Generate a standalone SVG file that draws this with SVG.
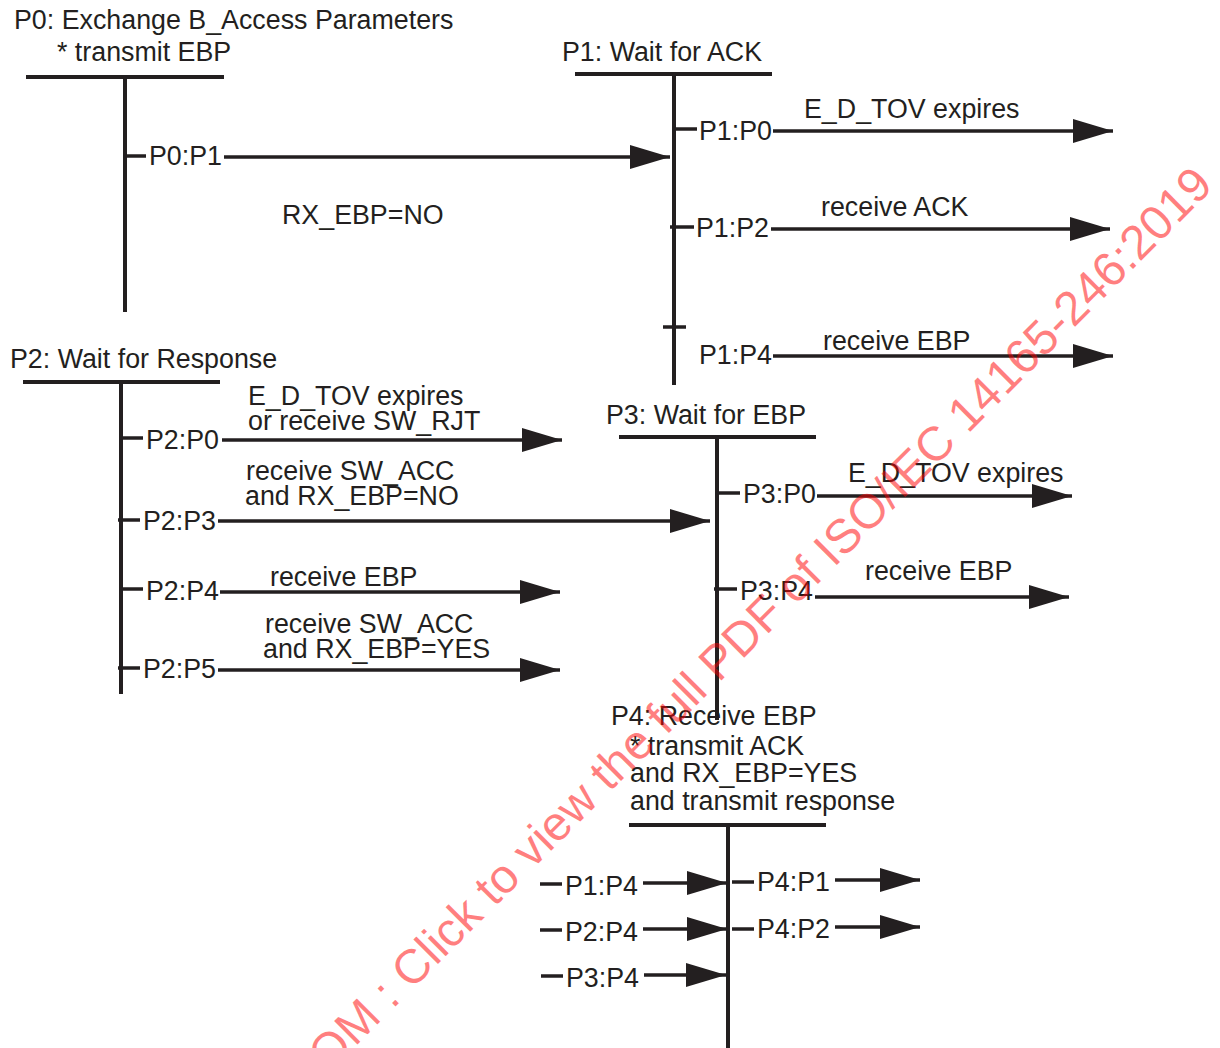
<svg xmlns="http://www.w3.org/2000/svg" width="1220" height="1048" viewBox="0 0 1220 1048">
<style>
.t{font-family:"Liberation Sans",Arial,sans-serif;font-size:26.8px;fill:#231f20}
.bar{stroke:#231f20;stroke-width:4;fill:none}
.tk{stroke:#231f20;stroke-width:3.5;fill:none}
.ln{stroke:#231f20;stroke-width:3.5;fill:none;marker-end:url(#ah)}
.wm{font-family:"Liberation Sans",Arial,sans-serif;font-size:48px;fill:#ff0000;fill-opacity:0.5}
</style>
<defs>
<marker id="ah" markerUnits="userSpaceOnUse" markerWidth="42" markerHeight="24" refX="40" refY="12" orient="auto">
<path d="M0,0 L40,12 L0,24 Z" fill="#231f20"/>
</marker>
</defs>
<rect width="1220" height="1048" fill="#ffffff"/>

<g id="node-P0">
<text class="t" x="14" y="29">P0: Exchange B_Access Parameters</text>
<text class="t" x="57" y="61">* transmit EBP</text>
<line class="bar" x1="26" y1="77" x2="224" y2="77"/>
<line class="bar" x1="125" y1="77" x2="125" y2="312"/>
<line class="tk" x1="125" y1="156" x2="146" y2="156"/>
<text class="t" x="149" y="165">P0:P1</text>
</g>

<g id="node-P1">
<text class="t" x="562" y="61">P1: Wait for ACK</text>
<line class="bar" x1="575" y1="74" x2="772" y2="74"/>
<line class="bar" x1="674" y1="74" x2="674" y2="385"/>
<line class="tk" x1="674" y1="129" x2="697" y2="129"/>
<text class="t" x="699" y="140">P1:P0</text>
<line class="tk" x1="670" y1="227" x2="694" y2="227"/>
<text class="t" x="696" y="237">P1:P2</text>
<line class="tk" x1="663" y1="327" x2="686" y2="327"/>
<text class="t" x="699" y="364">P1:P4</text>
</g>

<g id="node-P2">
<text class="t" x="10" y="368">P2: Wait for Response</text>
<line class="bar" x1="23" y1="382" x2="220" y2="382"/>
<line class="bar" x1="121" y1="382" x2="121" y2="694"/>
<line class="tk" x1="121" y1="438" x2="143" y2="438"/>
<text class="t" x="146" y="449">P2:P0</text>
<line class="tk" x1="118" y1="520" x2="140" y2="520"/>
<text class="t" x="143" y="530">P2:P3</text>
<line class="tk" x1="121" y1="589" x2="143" y2="589"/>
<text class="t" x="146" y="600">P2:P4</text>
<line class="tk" x1="118" y1="668" x2="140" y2="668"/>
<text class="t" x="143" y="678">P2:P5</text>
</g>

<g id="node-P3">
<text class="t" x="606" y="424">P3: Wait for EBP</text>
<line class="bar" x1="619" y1="437" x2="816" y2="437"/>
<line class="bar" x1="717" y1="437" x2="717" y2="720"/>
<line class="tk" x1="717" y1="493" x2="740" y2="493"/>
<text class="t" x="743" y="503">P3:P0</text>
<line class="tk" x1="714" y1="589" x2="737" y2="589"/>
<text class="t" x="740" y="600">P3:P4</text>
</g>

<g id="node-P4">
<text class="t" x="611" y="725">P4: Receive EBP</text>
<text class="t" x="630" y="755">* transmit ACK</text>
<text class="t" x="630" y="782">and RX_EBP=YES</text>
<text class="t" x="630" y="810">and transmit response</text>
<line class="bar" x1="629" y1="825" x2="826" y2="825"/>
<line class="bar" x1="728" y1="825" x2="728" y2="1048"/>
<line class="tk" x1="540" y1="884" x2="562" y2="884"/>
<text class="t" x="565" y="895">P1:P4</text>
<line class="tk" x1="540" y1="930" x2="562" y2="930"/>
<text class="t" x="565" y="941">P2:P4</text>
<line class="tk" x1="541" y1="976" x2="563" y2="976"/>
<text class="t" x="566" y="987">P3:P4</text>
<line class="tk" x1="732" y1="882" x2="754" y2="882"/>
<text class="t" x="757" y="891">P4:P1</text>
<line class="tk" x1="732" y1="929" x2="754" y2="929"/>
<text class="t" x="757" y="938">P4:P2</text>
</g>

<g id="connectors">
<line class="ln" x1="224" y1="157" x2="670" y2="157"/>
<text class="t" x="282" y="224">RX_EBP=NO</text>

<line class="ln" x1="773" y1="131" x2="1113" y2="131"/>
<text class="t" x="804" y="118">E_D_TOV expires</text>
<line class="ln" x1="771" y1="229" x2="1110" y2="229"/>
<text class="t" x="821" y="216">receive ACK</text>
<line class="ln" x1="773" y1="356" x2="1113" y2="356"/>
<text class="t" x="823" y="350">receive EBP</text>

<line class="ln" x1="222" y1="440" x2="562" y2="440"/>
<text class="t" x="248" y="405">E_D_TOV expires</text>
<text class="t" x="248" y="430">or receive SW_RJT</text>
<line class="ln" x1="218" y1="521" x2="710" y2="521"/>
<text class="t" x="246" y="480">receive SW_ACC</text>
<text class="t" x="245" y="505">and RX_EBP=NO</text>
<line class="ln" x1="220" y1="592" x2="560" y2="592"/>
<text class="t" x="270" y="586">receive EBP</text>
<line class="ln" x1="218" y1="670" x2="560" y2="670"/>
<text class="t" x="265" y="633">receive SW_ACC</text>
<text class="t" x="263" y="658">and RX_EBP=YES</text>

<line class="ln" x1="817" y1="496" x2="1072" y2="496"/>
<text class="t" x="848" y="482">E_D_TOV expires</text>
<line class="ln" x1="815" y1="597" x2="1069" y2="597"/>
<text class="t" x="865" y="580">receive EBP</text>

<line class="ln" x1="643" y1="883" x2="727" y2="883"/>
<line class="ln" x1="643" y1="929" x2="727" y2="929"/>
<line class="ln" x1="644" y1="975" x2="726" y2="975"/>
<line class="ln" x1="835" y1="880" x2="920" y2="880"/>
<line class="ln" x1="835" y1="927" x2="920" y2="927"/>
</g>

<text class="wm" x="1215" y="187" text-anchor="end" transform="rotate(-45 1215 187)">OM : Click to view the full PDF of ISO/IEC 14165-246:2019</text>
</svg>
